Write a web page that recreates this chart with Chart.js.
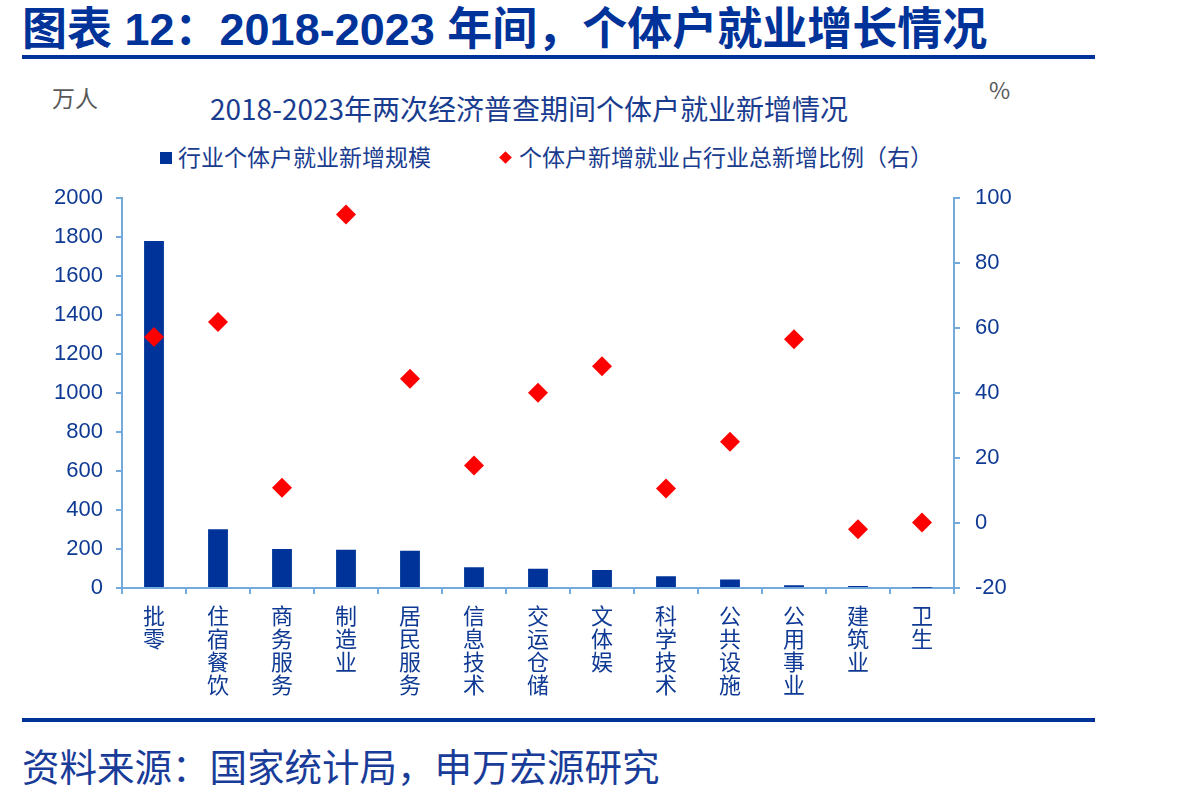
<!DOCTYPE html>
<html>
<head>
<meta charset="utf-8">
<script src="https://cdn.jsdelivr.net/npm/chart.js@4"></script>
<style>
    body { margin: 0; width: 1191px; height: 797px; background: #fff; position: relative; overflow: hidden; }
    .abs { position: absolute; white-space: nowrap; }
    #head { left: 22px; top: -7px; font: bold 45px "Liberation Sans", "Noto Sans CJK SC", sans-serif; color: #003399; }
    .rule { left: 22px; width: 1073px; height: 4px; background: #003399; }
    #sub { left: 210px; top: 88px; font: 28px "Noto Sans CJK SC", sans-serif; color: #1a3c8f; }
    .unit { font: 23px "Noto Sans CJK SC", sans-serif; color: #595959; }
    .leg { top: 139px; font: 23px "Noto Sans CJK SC", sans-serif; color: #1a3c8f; }
    .leg i { display: inline-block; vertical-align: middle; margin-right: 6px; position: relative; top: -2px; }
    #src { left: 22px; top: 737px; font: 37.5px "Noto Sans CJK SC", sans-serif; color: #1a3c99; }
    #wrap { left: 0; top: 170px; width: 1030px; height: 547px; }
</style>
</head>
<body>
<div class="abs" id="head">图表 12：2018-2023 年间，个体户就业增长情况</div>
<div class="abs rule" style="top:55px"></div>
<div class="abs unit" style="left:52px; top:80px">万人</div>
<div class="abs unit" style="left:989px; top:72px">%</div>
<div class="abs" id="sub">2018-2023年两次经济普查期间个体户就业新增情况</div>
<div class="abs leg" style="left:160px"><i style="width:12px;height:12px;background:#003399"></i>行业个体户就业新增规模</div>
<div class="abs leg" style="left:501px"><i style="width:9px;height:9px;background:#ff0000;transform:rotate(45deg);margin-right:9px"></i>个体户新增就业占行业总新增比例（右）</div>
<div class="abs" id="wrap"><canvas id="chart"></canvas></div>
<div class="abs rule" style="top:718px"></div>
<div class="abs" id="src">资料来源：国家统计局，申万宏源研究</div>

<script>
    // categories (one char per line, like the original)
    const categories = ['批零', '住宿餐饮', '商务服务', '制造业', '居民服务', '信息技术', '交运仓储',
        '文体娱', '科学技术', '公共设施', '公用事业', '建筑业', '卫生'];
    // 行业个体户就业新增规模, 万人
    const newJobs = [1780, 302, 200, 196, 191, 106, 99, 92, 60, 43, 14, 10, 1];
    // 个体户新增就业占行业总新增比例, %
    const shareOfNew = [57.3, 61.9, 10.9, 95, 44.4, 17.7, 40.1, 48.3, 10.6, 25, 56.6, -1.9, 0.2];
    const leftTicks = [0, 2000, 200];
    const rightTicks = [-20, 100, 20];

    const axisBlue = '#74a9dc';
    const textBlue = '#0f3a94';
    const numFont = { family: 'Liberation Sans', size: 22 };

    const ctx = document.getElementById('chart');

    new Chart(ctx, {
        type: 'bar',
        data: {
            labels: categories.map(c => c.split('')),
            datasets: [{
                type: 'line',
                label: '个体户新增就业占行业总新增比例（右）',
                data: shareOfNew,
                yAxisID: 'y1',
                showLine: false,
                pointStyle: 'rectRot',
                pointRadius: 10,
                pointHoverRadius: 10,
                backgroundColor: '#ff0000',
                borderColor: '#ff0000',
                borderWidth: 0,
                order: 0
            }, {
                label: '行业个体户就业新增规模',
                data: newJobs,
                yAxisID: 'y',
                backgroundColor: '#003399',
                barPercentage: 0.31,
                categoryPercentage: 1,
                order: 1
            }]
        },
        options: {
            responsive: true,
            maintainAspectRatio: false,
            animation: false,
            layout: { padding: { top: 10, left: 0, right: 0, bottom: 0 } },
            plugins: {
                legend: { display: false },
                title: { display: false },
                tooltip: { enabled: false }
            },
            scales: {
                x: {
                    afterFit: function (scale) { scale.height = 129; },
                    grid: { drawOnChartArea: false, tickLength: 6, color: axisBlue, lineWidth: 2, offset: true },
                    border: { color: axisBlue, width: 2 },
                    ticks: {
                        color: textBlue,
                        maxRotation: 0,
                        autoSkip: false,
                        padding: 10,
                        font: { family: 'Noto Sans CJK SC', size: 22, lineHeight: 1.05 }
                    }
                },
                y: {
                    position: 'left',
                    min: leftTicks[0],
                    max: leftTicks[1],
                    afterFit: function (scale) { scale.width = 122; },
                    grid: { drawOnChartArea: false, tickLength: 6, color: axisBlue, lineWidth: 2 },
                    border: { color: axisBlue, width: 2 },
                    ticks: {
                        stepSize: leftTicks[2], color: textBlue, padding: 13, font: numFont,
                        callback: v => String(v)
                    }
                },
                y1: {
                    position: 'right',
                    min: rightTicks[0],
                    max: rightTicks[1],
                    afterFit: function (scale) { scale.width = 76; },
                    grid: { drawOnChartArea: false, tickLength: 6, color: axisBlue, lineWidth: 2 },
                    border: { color: axisBlue, width: 2 },
                    ticks: { stepSize: rightTicks[2], color: textBlue, padding: 15, font: numFont }
                }
            }
        }
    });
</script>
</body>
</html>
